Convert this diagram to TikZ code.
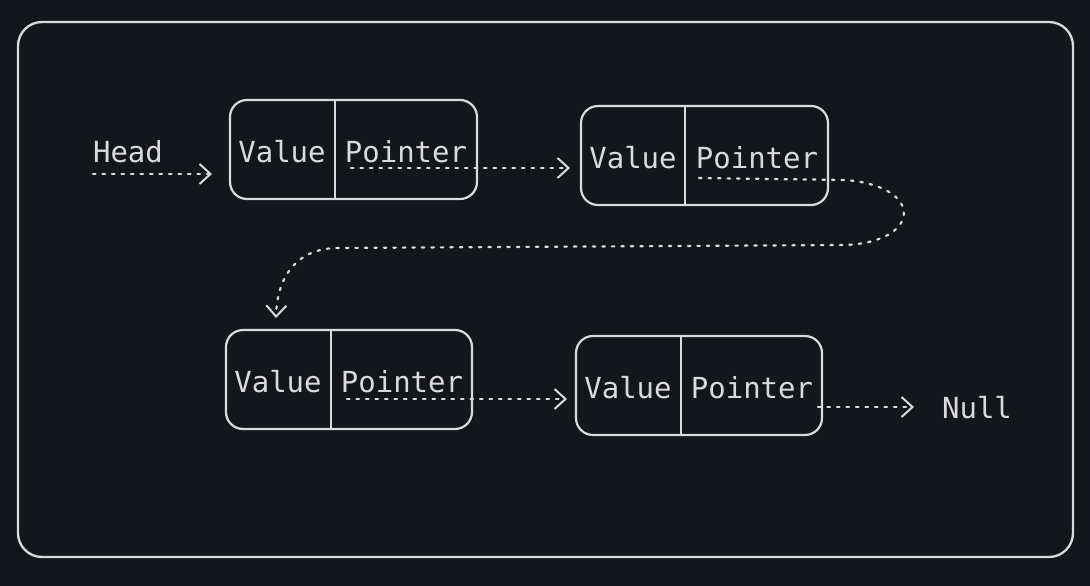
\documentclass[tikz,border=0pt]{standalone}
\usepackage{fontspec}
\setmonofont{DejaVu Sans Mono}
\usetikzlibrary{arrows.meta}
\definecolor{bg}{HTML}{13161A}
\definecolor{ink}{HTML}{DADADA}
\tikzset{
  frame/.style={draw=ink, line width=2.3pt, rounded corners=24pt},
  cellbox/.style={draw=ink, line width=2.2pt, rounded corners=17pt, minimum height=99pt, inner sep=0pt},
  divider/.style={draw=ink, line width=2.2pt},
  lbl/.style={text=ink, font=\ttfamily\fontsize{29}{33}\selectfont, inner sep=0pt, anchor=base},
  ptr/.style={draw=ink, line width=2.2pt, line cap=round, dash pattern=on 2.5pt off 7pt,
    -{Straight Barb[length=11pt,width=20pt,line width=2pt]}},
}
\begin{document}
\begin{tikzpicture}[x=1pt,y=-1pt]
\useasboundingbox[fill=bg] (0,0) rectangle (1090,586);
\node[frame, minimum width=1055pt, minimum height=535pt] (outer) at (545.5,289.5) {};

% box 1
\node[cellbox, minimum width=247pt] (b1) at (353.5,149.5) {};
\draw[divider] (335,101) -- (335,198);
\node[lbl] (v1) at (282,162) {Value};
\node[lbl] (p1) at (406,162) {Pointer};
% box 2
\node[cellbox, minimum width=247pt] (b2) at (704.5,155.5) {};
\draw[divider] (685,107) -- (685,204);
\node[lbl] (v2) at (633,168) {Value};
\node[lbl] (p2) at (757,168) {Pointer};
% box 3
\node[cellbox, minimum width=246pt] (b3) at (349,379.5) {};
\draw[divider] (331,331) -- (331,428);
\node[lbl] (v3) at (278,392) {Value};
\node[lbl] (p3) at (402,392) {Pointer};
% box 4
\node[cellbox, minimum width=246pt] (b4) at (699,385.5) {};
\draw[divider] (681,337) -- (681,434);
\node[lbl] (v4) at (628,398) {Value};
\node[lbl] (p4) at (752,398) {Pointer};

\node[lbl] (head) at (128,162) {Head};
\node[lbl] (null) at (977,418) {Null};

\coordinate (h0) at (93,174);
\coordinate (h1) at (212,174);
\coordinate (a0) at (351,168);
\coordinate (a1) at (570,168);
\coordinate (c0) at (699,178);
\coordinate (c1) at (276,318);
\coordinate (d0) at (347,399);
\coordinate (d1) at (567,399);
\coordinate (e0) at (818,407);
\coordinate (e1) at (914,407);

\draw[ptr] (h0) -- (h1);
\draw[ptr] (a0) -- (a1);
\draw[ptr] (c0) -- (845,180) .. controls (925,186) and (922,242) .. (845,245) -- (335,248) .. controls (292,250) and (277,282) .. (c1);
\draw[ptr] (d0) -- (d1);
\draw[ptr] (e0) -- (e1);
\end{tikzpicture}
\end{document}
